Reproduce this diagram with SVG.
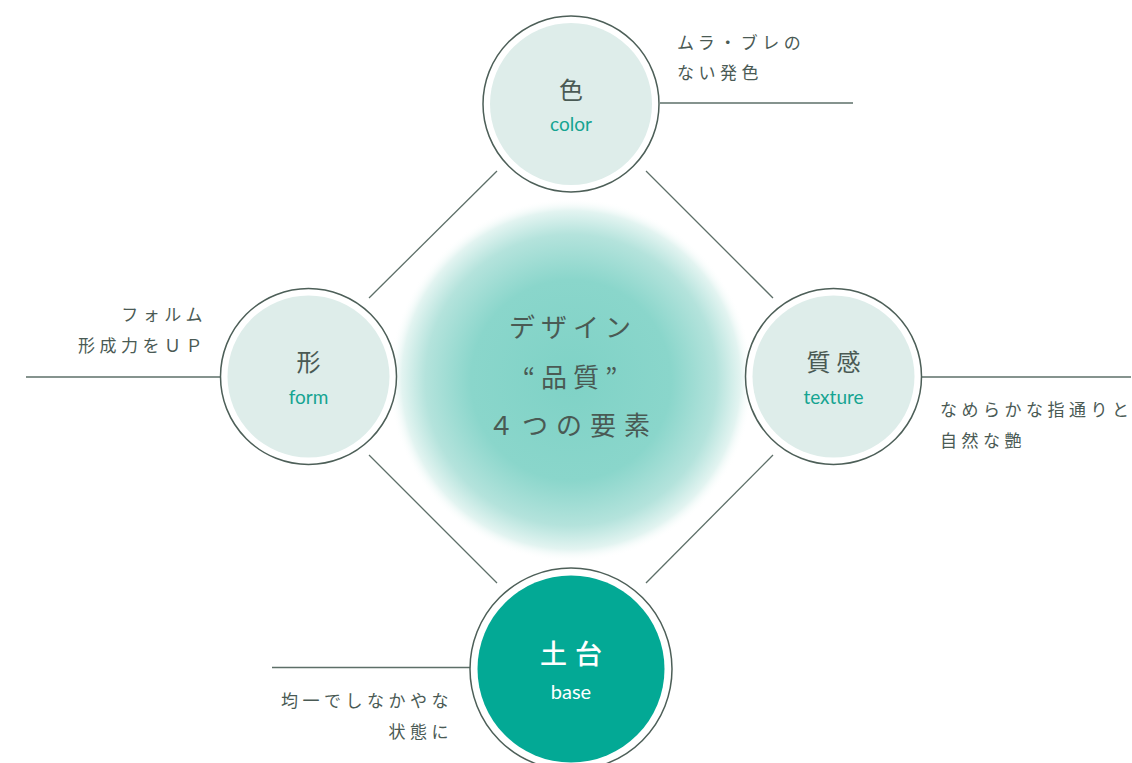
<svg xmlns="http://www.w3.org/2000/svg" width="1132" height="763" viewBox="0 0 1132 763">
<defs>
<radialGradient id="glow" cx="571" cy="380" r="182" gradientUnits="userSpaceOnUse">
<stop offset="0" stop-color="#7fd2c6"/>
<stop offset="0.55" stop-color="#8ad6cb"/>
<stop offset="0.8" stop-color="#b4e3dc"/>
<stop offset="0.93" stop-color="#e3f4f1"/>
<stop offset="1" stop-color="#ffffff" stop-opacity="0"/>
</radialGradient>
<style>
.ring{fill:#ffffff;stroke:#4d5f58;stroke-width:1.5}
.fill{fill:#deedea}
.line{stroke:#5d6f68;stroke-width:1.3;fill:none}
.jp{font-family:"Noto Sans CJK JP","Noto Sans",sans-serif;fill:#4a5a54}
.ttl{font-size:24px;text-anchor:middle}
.en{font-family:Lato,"Noto Sans",sans-serif;font-size:19px;fill:#15a491;text-anchor:middle}
.note{font-size:17px;letter-spacing:4.5px}
.ctr{font-size:26px;letter-spacing:6px;text-anchor:middle}
</style>
</defs>
<rect width="1132" height="763" fill="#ffffff"/>
<circle cx="571" cy="380" r="182" fill="url(#glow)"/>
<g id="connectors">
<line class="line" x1="497" y1="171" x2="369" y2="298"/>
<line class="line" x1="646" y1="171" x2="773" y2="298"/>
<line class="line" x1="369" y1="455" x2="497" y2="583"/>
<line class="line" x1="773" y1="455" x2="646" y2="583"/>
<line class="line" x1="660" y1="103" x2="853" y2="103"/>
<line class="line" x1="26" y1="377" x2="220" y2="377"/>
<line class="line" x1="922" y1="377" x2="1131" y2="377"/>
<line class="line" x1="272" y1="667.5" x2="471" y2="667.5"/>
</g>
<g id="center">
<text class="jp ctr" x="573" y="337">デザイン</text>
<text class="jp ctr" x="573" y="387">“品質”</text>
<text class="jp ctr" x="573" y="435" style="letter-spacing:8px">４つの要素</text>
</g>
<g id="node-color">
<circle class="ring" cx="571" cy="104" r="88"/>
<circle class="fill" cx="571" cy="104" r="81"/>
<text class="jp ttl" x="571" y="99">色</text>
<text class="en" x="571" y="131">color</text>
<text class="jp note" x="677" y="49">ムラ・ブレの</text>
<text class="jp note" x="677" y="79">ない発色</text>
</g>
<g id="node-form">
<circle class="ring" cx="308.5" cy="376.5" r="88"/>
<circle class="fill" cx="308.5" cy="376.5" r="81"/>
<text class="jp ttl" x="308.5" y="371">形</text>
<text class="en" x="308.5" y="404">form</text>
<text class="jp note" x="207" y="321" text-anchor="end">フォルム</text>
<text class="jp note" x="207" y="352" text-anchor="end">形成力をＵＰ</text>
</g>
<g id="node-texture">
<circle class="ring" cx="833.5" cy="376.5" r="88"/>
<circle class="fill" cx="833.5" cy="376.5" r="81"/>
<text class="jp ttl" x="836.5" y="371" style="letter-spacing:6px">質感</text>
<text class="en" x="833.5" y="404">texture</text>
<text class="jp note" x="940" y="416">なめらかな指通りと</text>
<text class="jp note" x="940" y="447">自然な艶</text>
</g>
<g id="node-base">
<circle class="ring" cx="571" cy="669" r="101"/>
<circle cx="571" cy="669" r="93.5" fill="#03a995"/>
<text class="jp ttl" x="575" y="664" style="fill:#ffffff;font-size:27px;font-weight:500;letter-spacing:8px">土台</text>
<text class="en" x="571" y="699" style="fill:#ffffff;font-size:20px">base</text>
<text class="jp note" x="453" y="707" text-anchor="end">均一でしなかやな</text>
<text class="jp note" x="453" y="738" text-anchor="end">状態に</text>
</g>
</svg>
